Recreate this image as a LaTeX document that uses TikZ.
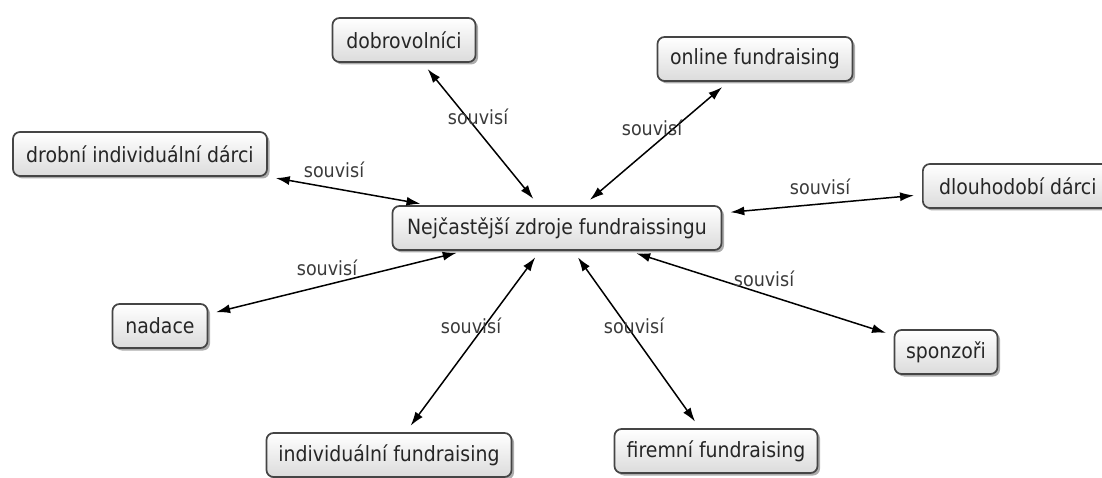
\documentclass[tikz,border=0pt]{standalone}
\usepackage{fontspec}
\setmainfont{DejaVu Sans Condensed}
\usetikzlibrary{arrows.meta,shadows}
\definecolor{boxline}{HTML}{454545}
\definecolor{labtext}{HTML}{3A3A3A}
\tikzset{
  concept/.style={draw=boxline, line width=1.7pt, rounded corners=7pt,
    top color=white, bottom color=black!14, minimum height=44pt,
    inner xsep=6pt, font=\fontsize{21}{23}\selectfont, text=black!85,
    drop shadow={shadow xshift=2.5pt, shadow yshift=-2.5pt, fill=black!65, opacity=0.5}},
  link/.style={{Latex[length=14pt,width=9pt]}-{Latex[length=14pt,width=9pt]}, line width=1.5pt, black,
    shorten <=8pt, shorten >=8pt},
  linklabel/.style={font=\fontsize{19.5}{21}\selectfont, text=labtext, inner sep=0pt}
}
\begin{document}
\begin{tikzpicture}[x=1pt,y=-1pt]
\useasboundingbox (0,0) rectangle (1102,478);
\node[concept, minimum width=329pt] (c) at (557,228) {Nejčastější zdroje fundraissingu};
\node[concept, minimum width=143pt] (dob) at (404,40) {dobrovolníci};
\node[concept, minimum width=195pt] (onl) at (755,59) {online fundraising};
\node[concept, minimum width=254pt] (drob) at (140,154) {drobní individuální dárci};
\node[concept, minimum width=190pt, anchor=west, inner xsep=3pt] (dlou) at (922,186) {dlouhodobí dárci};
\node[concept, minimum width=95pt] (nad) at (160,326) {nadace};
\node[concept, minimum width=103pt] (spon) at (946,352) {sponzoři};
\node[concept, minimum width=245pt] (ind) at (389,455) {individuální fundraising};
\node[concept, minimum width=203pt] (fir) at (716,451) {firemní fundraising};

\draw[link] (c) -- (dob);
\draw[link] (c) -- (onl);
\draw[link] (c) -- (drob);
\draw[link] (c) -- (dlou);
\draw[link] (c) -- (nad);
\draw[link] (c) -- (spon);
\draw[link] (c) -- (ind);
\draw[link] (c) -- (fir);

\node[linklabel] (l1) at (478,117) {souvisí};
\node[linklabel] (l2) at (652,128) {souvisí};
\node[linklabel] (l3) at (334,170) {souvisí};
\node[linklabel] (l4) at (820,187) {souvisí};
\node[linklabel] (l5) at (327,268) {souvisí};
\node[linklabel] (l6) at (764,279) {souvisí};
\node[linklabel] (l7) at (471,326) {souvisí};
\node[linklabel] (l8) at (634,326) {souvisí};
\end{tikzpicture}
\end{document}
